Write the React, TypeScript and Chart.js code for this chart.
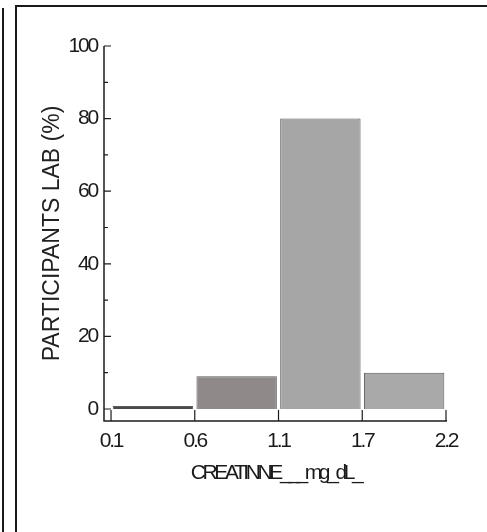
import React, { useEffect, useRef } from "react";
import { Chart, registerables } from "chart.js";

Chart.register(...registerables);

// Bin edges shown on the x axis (mg/dL)
const binEdges = ["0.1", "0.6", "1.1", "1.7", "2.2"];
// Bins
const binLabels = ["0.1–0.6", "0.6–1.1", "1.1–1.7", "1.7–2.2"];
// Percent of participant labs per bin
const percentages = [0.8, 9, 80, 10];
// Y axis ticks
const yMajorTicks = [0, 20, 40, 60, 80, 100];
const yMinorTicks = [10, 30, 50, 70, 90];

const barColors = ["#4a4a4a", "#8f898a", "#a6a6a6", "#a9a9a9"];

const FONT = "'Liberation Sans', Arial, sans-serif";
const TICK_SPACING = "-2.2px";

// make an axis title draw with its own letter spacing
function titleSpacing(scale: any, spacing: string) {
  if (scale.__spacingPatched) return;
  const orig = scale.drawTitle;
  scale.drawTitle = function (...args: any[]) {
    const c = this.ctx;
    const prev = c.letterSpacing;
    c.letterSpacing = spacing;
    orig.apply(this, args);
    c.letterSpacing = prev;
  };
  scale.__spacingPatched = true;
}

const axisPlugin = {
  id: "axisTicks",
  beforeDraw(chart: any) {
    chart.ctx.letterSpacing = TICK_SPACING;
  },
  afterDatasetsDraw(chart: any) {
    const { ctx, chartArea, scales } = chart;
    const x = scales.x;
    const y = scales.y;
    ctx.save();
    ctx.strokeStyle = "#1c1c1c";
    ctx.lineWidth = 1.5;
    ctx.beginPath();
    ctx.moveTo(chartArea.left, y.getPixelForValue(100));
    ctx.lineTo(chartArea.left, chartArea.bottom);
    ctx.lineTo(chartArea.right, chartArea.bottom);
    ctx.stroke();
    ctx.lineWidth = 1.2;
    ctx.beginPath();
    yMajorTicks.forEach((v) => {
      const py = y.getPixelForValue(v);
      ctx.moveTo(chartArea.left, py);
      ctx.lineTo(chartArea.left + 7, py);
    });
    yMinorTicks.forEach((v) => {
      const py = y.getPixelForValue(v);
      ctx.moveTo(chartArea.left, py);
      ctx.lineTo(chartArea.left + 4, py);
    });
    binEdges.forEach((_, i) => {
      const px = x.getPixelForValue(i);
      ctx.moveTo(px, chartArea.bottom);
      ctx.lineTo(px, chartArea.bottom - 11);
    });
    ctx.stroke();
    ctx.restore();
  },
  afterDraw(chart: any) {
    chart.ctx.letterSpacing = "0px";
  },
};

function HistogramChart() {
  const ref = useRef<HTMLCanvasElement | null>(null);
  useEffect(() => {
    if (!ref.current) return;
    const chart = new Chart(ref.current, {
      type: "bar",
      data: {
        labels: binLabels,
        datasets: [
          {
            label: "PARTICIPANTS LAB (%)",
            data: percentages.map((v, i) => ({ x: i + 0.5, y: v })),
            backgroundColor: barColors,
            borderColor: "#5a5a5a",
            borderWidth: 1,
            barPercentage: 0.96,
            categoryPercentage: 1,
          },
        ],
      },
      options: {
        animation: false,
        responsive: false,
        layout: { padding: { left: 0, top: 46, right: 40, bottom: 0 } },
        plugins: { legend: { display: false }, tooltip: { enabled: false } },
        scales: {
          x: {
            type: "linear",
            offset: false,
            min: -0.084,
            max: 4.012,
            grid: { display: false, drawTicks: false },
            border: { display: false },
            afterBuildTicks: (scale: any) => {
              scale.ticks = binEdges.map((_, i) => ({ value: i }));
            },
            afterFit: (scale: any) => {
              scale.height = 111;
              titleSpacing(scale, "-3.4px");
            },
            ticks: {
              autoSkip: false,
              maxRotation: 0,
              padding: 8,
              color: "#1a1a1a",
              font: { family: FONT, size: 21 },
              callback: (v: any) => binEdges[Math.round(Number(v))] ?? "",
            },
            title: {
              display: true,
              text: "CREATINNE___mg_dL_",
              color: "#1a1a1a",
              font: { family: FONT, size: 21 },
              padding: { top: 0, bottom: 46 },
            },
          },
          y: {
            min: -3.3,
            max: 100,
            grid: { display: false, drawTicks: false },
            border: { display: false },
            afterBuildTicks: (scale: any) => {
              scale.ticks = yMajorTicks.map((v) => ({ value: v }));
            },
            afterFit: (scale: any) => {
              scale.width = 104;
              titleSpacing(scale, "0px");
            },
            ticks: {
              padding: 7,
              color: "#1a1a1a",
              font: { family: FONT, size: 21 },
            },
            title: {
              display: true,
              text: "PARTICIPANTS LAB (%)",
              color: "#222222",
              font: { family: FONT, size: 23 },
              padding: { top: 39, bottom: 0 },
            },
          },
        },
      },
      plugins: [axisPlugin],
    });
    return () => chart.destroy();
  }, []);
  return <canvas ref={ref} width={487} height={532} style={{ position: "absolute", left: 0, top: 0 }} />;
}

export default function App() {
  return (
    <div style={{ position: "absolute", left: 0, top: 0, width: 487, height: 532, background: "#fff", overflow: "hidden" }}>
      <div style={{ position: "absolute", left: 2, top: 8, width: 2, height: 524, background: "#1a1a1a" }} />
      <div style={{ position: "absolute", left: 15, top: 5, width: 472, height: 2, background: "#1a1a1a" }} />
      <div style={{ position: "absolute", left: 15, top: 5, width: 2, height: 527, background: "#1a1a1a" }} />
      <HistogramChart />
    </div>
  );
}
